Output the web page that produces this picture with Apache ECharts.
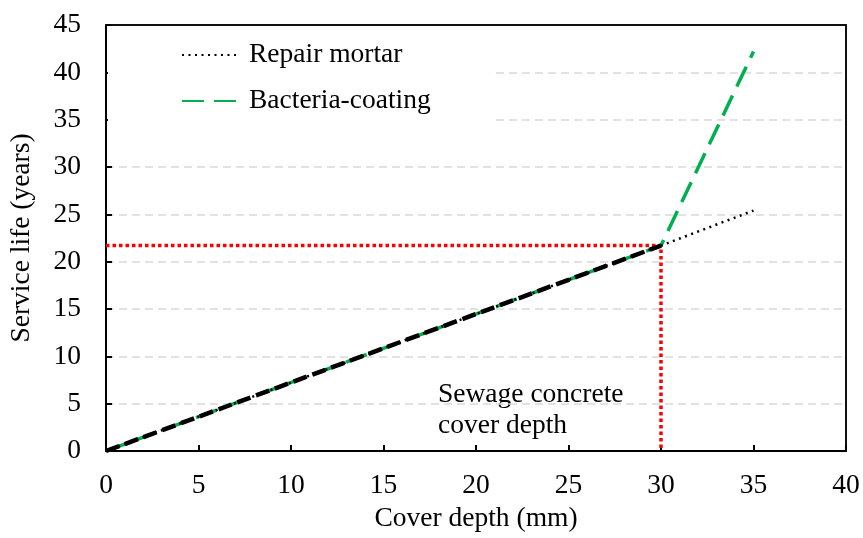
<!DOCTYPE html>
<html>
<head>
<meta charset="utf-8">
<script src="https://cdn.jsdelivr.net/npm/echarts@6/dist/echarts.min.js"></script>
<style>
  html, body { margin: 0; padding: 0; background: #fff; }
  #main { width: 863px; height: 538px; }
</style>
</head>
<body>
<div id="main"></div>
<script>
// data
var coverDepth = [0, 30, 35];
var repairMortar = [0, 21.7, 25.4];
var bacteriaCoating = [0, 21.7, 42.2];
var designDepth = 30;
var designLife = 21.7;
var xTicks = [0, 5, 10, 15, 20, 25, 30, 35, 40];
var yTicks = [0, 5, 10, 15, 20, 25, 30, 35, 40, 45];

var FONT = '"Liberation Serif", "Times New Roman", serif';
var FS = 27.5;

function pairs(xs, ys) {
  return xs.map(function (x, i) { return [x, ys[i]]; });
}

// plain frame line for the top and right sides
function frameAxis(pos, ticks) {
  return {
    type: 'value', position: pos,
    min: ticks[0], max: ticks[ticks.length - 1], interval: 5,
    axisLine: { show: true, onZero: false, lineStyle: { color: '#111', width: 2 } },
    axisTick: { show: false }, axisLabel: { show: false }, splitLine: { show: false }
  };
}

var chart = echarts.init(document.getElementById('main'));

var option = {
  animation: false,
  backgroundColor: '#fff',
  grid: { left: 106, right: 17, top: 25, bottom: 82 },
  legend: {
    orient: 'vertical',
    left: 108, top: 27,
    padding: [14, 60, 14, 73],
    backgroundColor: '#fff',
    itemWidth: 58, itemHeight: 20, itemGap: 18,
    textStyle: { fontFamily: FONT, fontSize: FS, color: '#000', lineHeight: 28, padding: [0, 0, 0, 4] },
    itemStyle: { opacity: 0 },
    data: ['Repair mortar', 'Bacteria-coating']
  },
  xAxis: [{
    type: 'value',
    min: xTicks[0], max: xTicks[xTicks.length - 1], interval: 5,
    name: 'Cover depth (mm)',
    nameLocation: 'middle', nameGap: 54,
    nameTextStyle: { fontFamily: FONT, fontSize: FS, color: '#000' },
    axisLine: { onZero: false, lineStyle: { color: '#000', width: 2 } },
    axisTick: { inside: true, length: 6, lineStyle: { color: '#000', width: 2 } },
    axisLabel: { fontFamily: FONT, fontSize: FS, color: '#000', margin: 21 },
    splitLine: { show: false }
  }, frameAxis('top', xTicks)],
  yAxis: [{
    type: 'value',
    min: yTicks[0], max: yTicks[yTicks.length - 1], interval: 5,
    name: 'Service life (years)',
    nameLocation: 'middle', nameGap: 70,
    nameTextStyle: { fontFamily: FONT, fontSize: FS, color: '#000' },
    axisLine: { show: true, onZero: false, lineStyle: { color: '#000', width: 2 } },
    axisTick: { show: true, inside: true, length: 6, lineStyle: { color: '#000', width: 2 } },
    axisLabel: { fontFamily: FONT, fontSize: FS, color: '#000', margin: 25 },
    splitLine: { show: true, lineStyle: { color: '#d9d9d9', width: 1.5, type: [8, 5] } }
  }, frameAxis('right', yTicks)],
  graphic: [{
    type: 'text',
    left: 438, top: 379,
    style: {
      text: 'Sewage concrete\ncover depth',
      fontFamily: FONT, fontSize: FS, lineHeight: 31, fill: '#000'
    }
  }],
  series: [
    {
      name: 'design',
      type: 'line',
      symbol: 'none',
      data: [[0, designLife], [designDepth, designLife], [designDepth, 0]],
      lineStyle: { color: '#ff0000', width: 3.5, type: [3.5, 3] },
      z: 2
    },
    {
      name: 'Bacteria-coating',
      type: 'line',
      symbol: 'none',
      data: pairs(coverDepth, bacteriaCoating),
      lineStyle: { color: '#00b050', width: 3.5, type: [22, 10] },
      z: 3
    },
    {
      name: 'overlap',
      type: 'line',
      symbol: 'none',
      data: pairs(coverDepth.slice(0, 2), repairMortar.slice(0, 2)),
      lineStyle: { color: '#000', width: 4.5, type: [14, 6] },
      z: 4
    },
    {
      name: 'Repair mortar',
      type: 'line',
      symbol: 'none',
      data: pairs(coverDepth, repairMortar),
      lineStyle: { color: '#000', width: 2.5, type: [2, 4.5] },
      z: 5
    }
  ]
};

chart.setOption(option);
window.onresize = chart.resize;
</script>
</body>
</html>
